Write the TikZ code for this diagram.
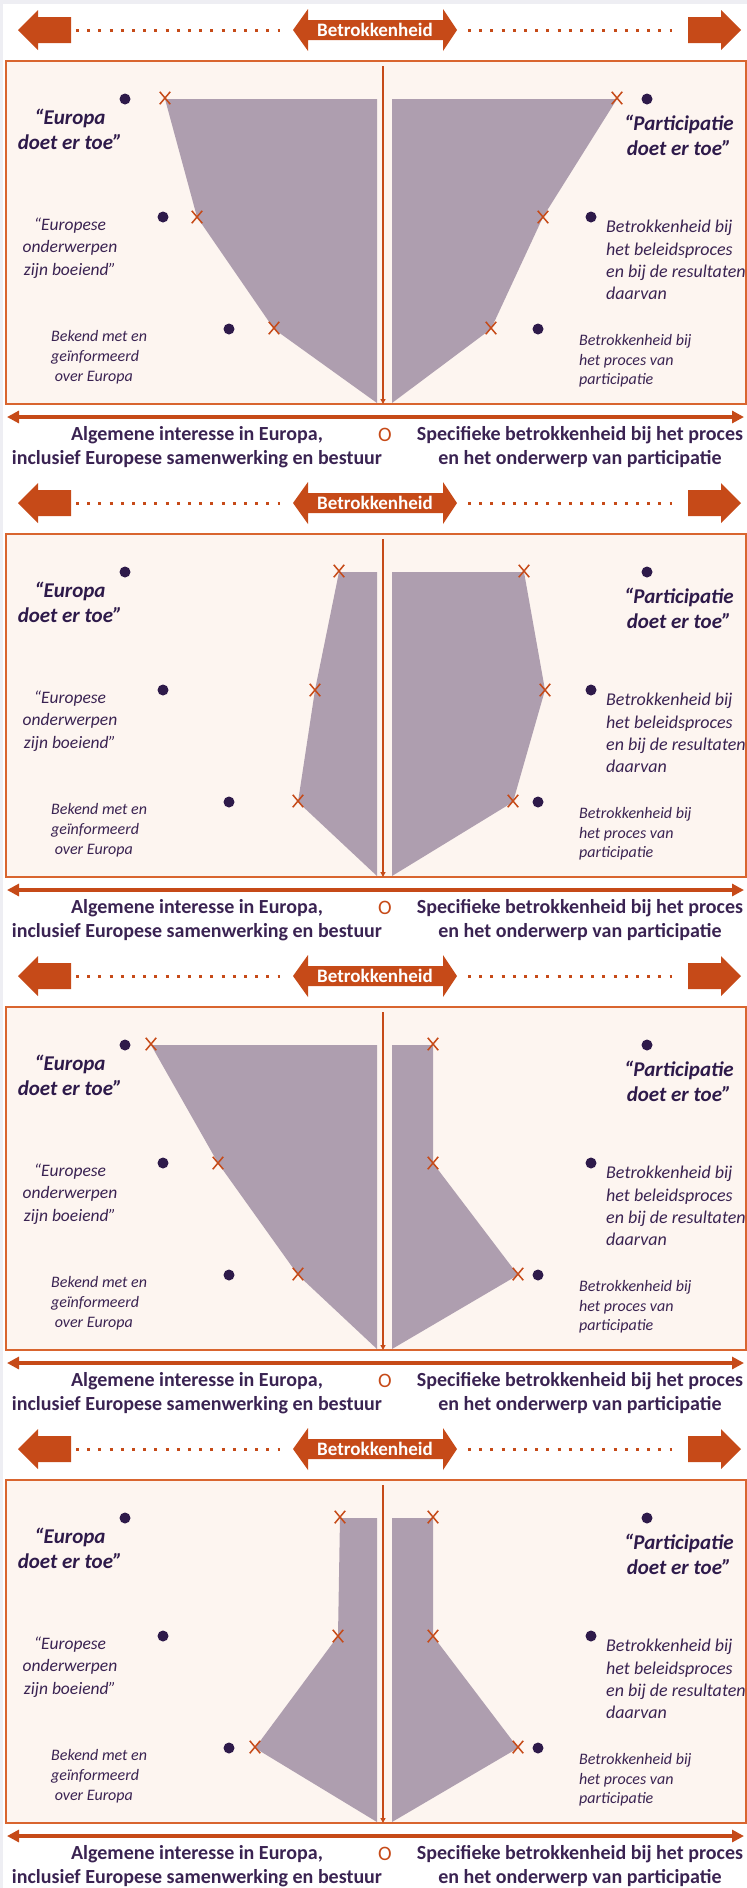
\documentclass[tikz,border=0pt]{standalone}
\usepackage{fontspec}
\setmainfont{Carlito}
\usetikzlibrary{arrows.meta, shapes.misc}
\definecolor{oranje}{HTML}{C64A18}
\definecolor{rand}{HTML}{D9652F}
\definecolor{vlak}{HTML}{FDF5F0}
\definecolor{grijs}{HTML}{AE9EAF}
\definecolor{paars}{HTML}{2E1A4A}
\definecolor{tekst}{HTML}{3A2352}
\definecolor{strook}{HTML}{EEEEF3}
\tikzset{stip/.style  = {circle, fill=paars, minimum size=11pt, inner sep=0pt},
    kruis/.style = {cross out, draw=oranje, line width=1.5pt, minimum width=9pt, minimum height=11pt, inner sep=0pt},
    vet/.style   = {text=paars, align=center, inner sep=0pt, font=\bfseries\itshape\fontsize{21}{25}\selectfont},
    cur/.style   = {text=tekst, inner sep=0pt, font=\itshape\fontsize{17.5}{22.5}\selectfont},
    klein/.style = {text=tekst, align=left, inner sep=0pt, anchor=west, font=\itshape\fontsize{16}{20}\selectfont},
    as/.style    = {text=tekst, align=center, inner sep=0pt, font=\bfseries\fontsize{20}{24}\selectfont},
    wit/.style   = {text=white, inner sep=0pt, font=\bfseries\fontsize{19}{19}\selectfont},
    nul/.style   = {text=oranje, inner sep=0pt, font=\fontsize{20.5}{20.5}\selectfont},
    stippel/.style = {oranje, line width=3pt, dash pattern=on 3pt off 8.2pt}}

\begin{document}
\begin{tikzpicture}[x=1pt, y=-1pt]
    \useasboundingbox (0,0) rectangle (747,1888);
    \fill[strook] (0,0) rectangle (747,4);
    \fill[strook] (0,0) rectangle (3,1888);
    \foreach \k/\La/\Lb/\Lc/\Ra/\Rb/\Rc in {0/165/197/274/617/543/491, 1/339/315/298/524/545/513,
        2/151/218/298/433/433/518, 3/340/338/255/433/433/518} {
    \begin{scope}[shift={(0,473*\k)}]
    \fill[oranje] (71,17) -- (38,17) -- (38,10) -- (18,30) -- (38,50) -- (38,43) -- (71,43) -- cycle;
    \fill[oranje] (688,17) -- (721,17) -- (721,10) -- (741,30) -- (721,50) -- (721,43) -- (688,43) -- cycle;
    \fill[oranje] (293,30) -- (308,9) -- (308,20) -- (443,20) -- (443,9) -- (457,30)
        -- (443,51) -- (443,40) -- (308,40) -- (308,51) -- cycle;
    \node[wit] (b\k) at (375,30) {Betrokkenheid};
    \draw[stippel] (76,30) -- (280,30);
    \draw[stippel] (468,30) -- (672,30);

    \draw[rand, line width=1.5pt, fill=vlak] (6,61) rectangle (746,404);
    \fill[grijs] (\La,99) -- (377,99) -- (377,403) -- (\Lc,329) -- (\Lb,217) -- cycle;
    \fill[grijs] (392,99) -- (\Ra,99) -- (\Rb,217) -- (\Rc,329) -- (392,403) -- cycle;

    \coordinate (t\k) at (383,66);
    \coordinate (o\k) at (383,404);
    \coordinate (w\k) at (7,417);
    \coordinate (e\k) at (744,417);
    \draw[oranje, line width=1.5pt, -{Triangle[length=5pt, width=5pt]}] (t\k) -- (o\k);
    \draw[oranje, line width=3.5pt, {Triangle[length=12pt, width=12pt]}-{Triangle[length=12pt, width=12pt]}] (w\k) -- (e\k);

    \foreach \n/\x/\y in {pa/125/99, pb/163/217, pc/229/329, qa/647/99, qb/591/217, qc/538/329}
        \node[stip] (\n\k) at (\x,\y) {};
    \foreach \n/\x/\y in {la/\La/98, lb/\Lb/217, lc/\Lc/328, ra/\Ra/98, rb/\Rb/217, rc/\Rc/328}
        \node[kruis] (\n\k) at (\x,\y) {};

    \node[vet] (ea\k) at (70,129) {“Europa\\doet er toe”};
    \node[vet] (fa\k) at (679,135) {“Participatie\\doet er toe”};
    \node[cur, align=center] (eb\k) at (70,248) {“Europese\\onderwerpen\\zijn boeiend”};
    \node[cur, align=left, anchor=west, font=\itshape\fontsize{18}{22.3}\selectfont] (fb\k) at (606,260)
        {Betrokkenheid bij\\het beleidsproces\\en bij de resultaten\\daarvan};
    \node[klein] (ec\k) at (51,357) {Bekend met en\\geïnformeerd\\\ over Europa};
    \node[klein, font=\itshape\fontsize{16}{19.5}\selectfont] (fc\k) at (579,361) {Betrokkenheid bij\\het proces van\\participatie};

    \node[as] (al\k) at (197,447) {Algemene interesse in Europa,\\inclusief Europese samenwerking en bestuur};
    \node[as] (sp\k) at (580,447) {Specifieke betrokkenheid bij het proces\\en het onderwerp van participatie};
    \node[nul] (n\k) at (385,435) {O};
    \end{scope}
    }
\end{tikzpicture}
\end{document}
